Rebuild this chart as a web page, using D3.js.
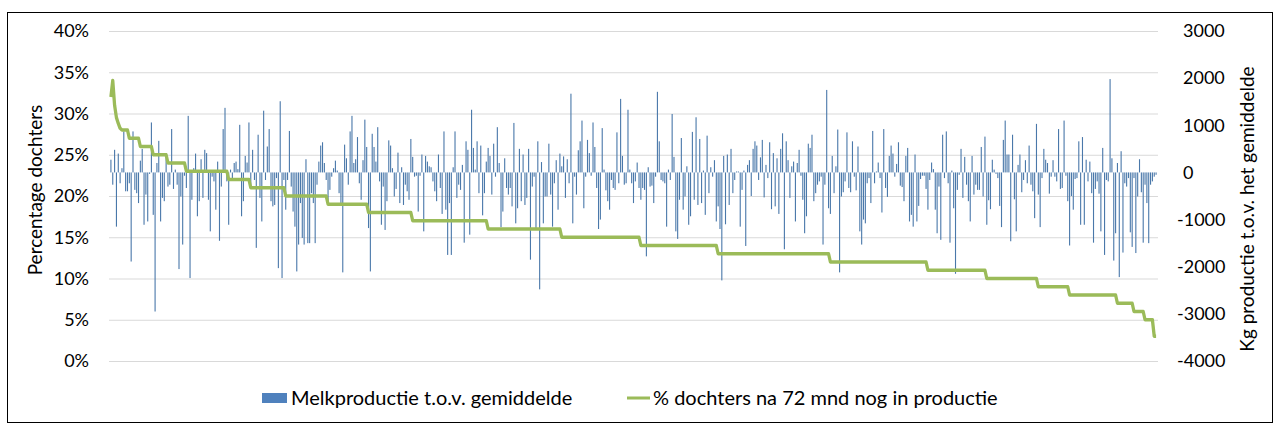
<!DOCTYPE html>
<html><head><meta charset="utf-8">
<script src="https://cdn.jsdelivr.net/npm/d3@7"></script>
<style>
html,body{margin:0;padding:0;background:#fff;}
svg{display:block;font-family:Lato,"Open Sans",sans-serif;}
</style></head>
<body>
<svg id="chart" width="1280" height="435"></svg>
<script>
// Melkproductie t.o.v. gemiddelde (kg), one value per bull
const milkDiff = [
270,-260,480,-1150,400,-230,90,870,-400,-400,-230,-1890,870,-370,-440,-650,250,500,-1110,-470,
-1040,-30,1060,-900,-2950,200,670,-1040,-540,-610,410,-300,-260,920,-350,60,-260,-2050,-510,-1530,
-70,-330,1200,-2240,-580,90,400,-930,-610,280,-540,480,410,-580,-1250,-90,-190,-790,230,-1450,
-300,920,1370,-190,-1110,60,-120,200,230,70,1010,-930,-610,350,210,1060,-330,480,-160,-1600,
800,-540,-1040,1310,-160,550,920,-610,-720,-690,-120,-2030,1510,-2240,
-160,-790,-160,880,-300,-830,-1150,-2100,-1530,-650,-1390,-1530,280,-1500,-1500,-440,-650,-1500,-260,230,
570,640,200,-160,-610,-370,-90,90,250,40,-440,-650,-2120,590,300,-260,870,1200,200,280,
750,-230,-580,260,1120,540,-1180,-2100,820,540,230,960,-190,-1110,-300,-1220,-610,680,570,90,
-510,-350,420,-650,110,-690,-260,-400,-580,710,330,-90,-70,-830,-70,380,-1250,350,230,130,
110,-190,-400,-610,380,-330,-880,870,-790,-1750,-650,-1750,110,870,-540,-260,
-370,160,-1490,660,480,-1320,1330,520,60,660,-440,570,-910,-440,230,520,350,-470,610,-90,
960,200,-1160,-830,300,-330,-470,-330,-720,1050,-1080,-760,500,-610,380,-690,-540,500,-1850,-300,
-90,-1180,660,-2480,220,-1080,-510,-510,610,-470,-1150,-230,260,-790,400,130,340,-540,280,-230,
1670,-1080,-90,-470,470,660,1100,-760,-90,690,410,-70,1060,540,-330,-1200,-1000,940,60,-380,
-610,-790,-160,-330,-370,850,-230,1560,350,-260,-230,1330,60,-230,-650,
-190,210,-330,-580,-330,-370,-1780,110,-300,-280,-650,-90,1710,660,-160,-190,-230,-1150,60,-160,
1240,330,-1250,-1410,-580,730,-790,-510,130,-1110,-930,860,-580,1170,-690,710,-650,40,-900,780,
-440,110,-90,260,-1040,-720,-1200,-2290,350,-1100,380,-690,500,-440,-160,20,20,-1150,-370,40,
-1560,160,260,-500,500,660,570,-160,320,690,-530,160,-120,640,-780,410,-720,300,-880,500,
830,-1630,660,260,-540,130,230,-1040,200,480,-70,-580,-1290,-930,610,
520,800,-610,-440,-260,-190,-90,-1530,-260,1750,-760,-880,350,-440,130,910,-2120,-510,-420,-190,
850,-330,-420,660,-90,-380,550,-1250,-1530,-1000,-1080,-230,-120,-650,880,-230,20,210,-120,-850,
920,-330,-520,350,570,400,-90,180,640,-280,-310,-610,350,520,-1040,-900,-1150,380,-1040,-710,
-140,-70,-70,-350,-790,-160,210,70,-790,-1290,-300,-1430,800,-120,870,-230,-1490,40,-760,-2150,
-370,-50,500,-540,330,-260,-610,-1040,350,-470,-260,-370,-370,540,
-510,760,-1110,-590,-780,270,60,-30,-120,-710,-1160,690,1100,380,380,-1460,800,-570,-1250,160,
380,-420,-160,260,-230,570,-260,-400,-970,1030,-470,-1160,-120,500,270,200,-450,-90,260,-90,
-190,920,-350,-330,1100,-70,-610,-1550,-500,-790,-140,-120,660,-1110,750,-1110,270,-190,230,-440,
-1490,-350,-190,-450,-1250,520,-1750,-160,-190,1980,300,-1870,-1290,200,-2220,450,-1700,-230,-300,-120,
-1270,-1580,-120,-1710,-510,280,-420,-1490,-260,-650,-1500,-260,-190,-90,-50
];
// % dochters na 72 mnd nog in productie: level and number of consecutive bulls at that level
const shareLevels = [32,34,31,29.5,28.8,28.2,28,27,26,25,24,23,22,21,20,19,18,17,16,15,14,13,12,11,10,9,8,7,6,5,3];
const shareRuns   = [1,1,1,1,1,1,4,6,7,8,10,23,12,19,23,22,24,41,40,43,42,61,53,32,28,17,26,9,6,5,2];
const leftTicks  = [0,5,10,15,20,25,30,35,40];
const rightTicks = [-4000,-3000,-2000,-1000,0,1000,2000,3000];
const seriesNames = ["Melkproductie t.o.v. gemiddelde","% dochters na 72 mnd nog in productie"];
const leftTitle = "Percentage dochters";
const rightTitle = "Kg productie t.o.v. het gemiddelde";

const share = [];
shareLevels.forEach((v,k)=>{ for(let j=0;j<shareRuns[k];j++) share.push(v); });

const svg = d3.select("#chart");
const M = {l:110, r:1157, t:31, b:361};
const N = milkDiff.length;
const x = d3.scaleBand().domain(d3.range(N)).range([M.l, M.r]).paddingInner(0.4).paddingOuter(0.2);
const yL = d3.scaleLinear().domain([0,40]).range([M.b, M.t]);
const yR = d3.scaleLinear().domain([-4000,3000]).range([M.b, M.t]);

// outer border
svg.append("rect").attr("x",7.5).attr("y",12.5).attr("width",1265).attr("height",410)
  .attr("fill","#fff").attr("stroke","#000").attr("stroke-width",1);

// gridlines
const grid = svg.append("g").attr("transform",`translate(${M.l-1},0)`)
  .call(d3.axisLeft(yL).tickValues(leftTicks).tickSize(-(M.r-M.l+2)).tickFormat(""));
grid.select(".domain").remove();
grid.selectAll("line").attr("stroke","#d9d9d9").attr("stroke-width",1);

// left axis labels
const ax = svg.append("g").attr("transform",`translate(89,0)`)
  .call(d3.axisLeft(yL).tickValues(leftTicks).tickSize(0).tickPadding(0).tickFormat(d=>d+"%"));
ax.select(".domain").remove();
ax.selectAll("text").attr("font-size",18).attr("fill","#000").attr("font-family","Lato");

// right axis labels
const axr = svg.append("g").attr("transform",`translate(1183,0)`)
  .call(d3.axisRight(yR).tickValues(rightTicks).tickSize(0).tickPadding(0).tickFormat(d=>d3.format("d")(d).replace("−","-")));
axr.select(".domain").remove();
axr.selectAll("text").attr("font-size",18).attr("fill","#000").attr("font-family","Lato")
  .attr("x", d=> d<0 ? -6 : 0);

// bars
svg.append("g").selectAll("rect").data(milkDiff).join("rect")
  .attr("x",(d,i)=>x(i)).attr("width",x.bandwidth())
  .attr("y",d=>yR(Math.max(0,d))).attr("height",d=>Math.abs(yR(d)-yR(0)))
  .attr("fill","#4a78aa");

// line
svg.append("path").datum(share)
  .attr("d", d3.line().x((d,i)=>x(i)+x.bandwidth()/2).y(d=>yL(d)))
  .attr("fill","none").attr("stroke","#9bbb59").attr("stroke-width",3.3).attr("stroke-linejoin","round");

// axis titles
svg.append("text").attr("transform","translate(42,190) rotate(-90)").attr("text-anchor","middle")
  .attr("font-size",19).attr("font-family","Lato").text(leftTitle);
svg.append("text").attr("transform","translate(1254,209) rotate(-90)").attr("text-anchor","middle")
  .attr("font-size",19).attr("font-family","Lato").text(rightTitle);

// legend
const lg = svg.append("g").attr("font-family","Lato").attr("font-size",20);
lg.append("rect").attr("x",262).attr("y",393).attr("width",25).attr("height",10).attr("fill","#4f81bd");
lg.append("text").attr("x",291).attr("y",405).text(seriesNames[0]);
lg.append("line").attr("x1",627).attr("x2",650).attr("y1",398).attr("y2",398).attr("stroke","#9bbb59").attr("stroke-width",3);
lg.append("text").attr("x",653).attr("y",405).text(seriesNames[1]);
</script>
</body></html>
